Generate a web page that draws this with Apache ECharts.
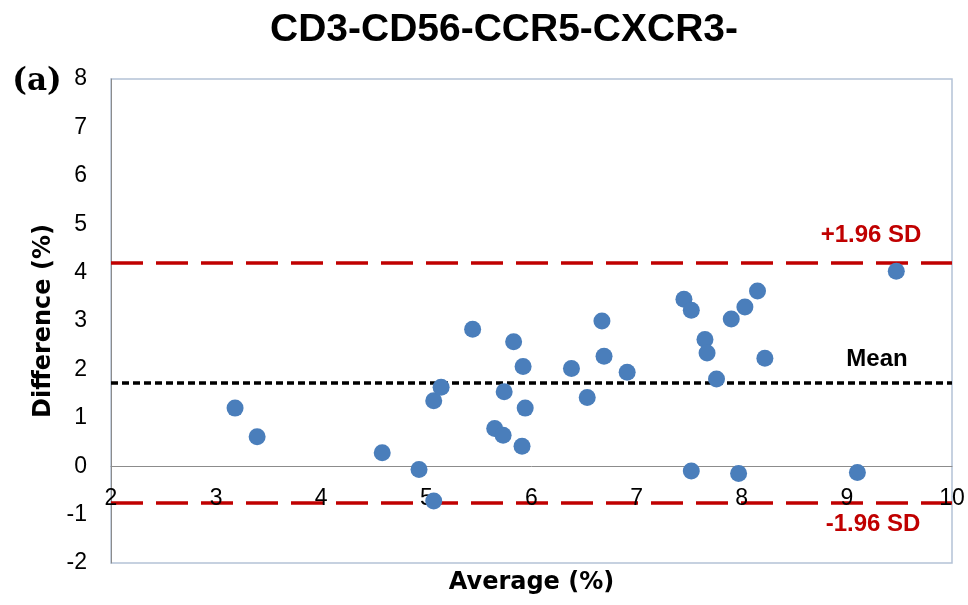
<!DOCTYPE html>
<html>
<head>
<meta charset="utf-8">
<script src="https://cdn.jsdelivr.net/npm/echarts@6/dist/echarts.min.js"></script>
<style>
  html, body { margin: 0; padding: 0; background: #fff; }
  #main { width: 968px; height: 605px; }
</style>
</head>
<body>
<div id="main"></div>
<script>
// Bland-Altman: average vs difference
var averages = [3.18, 3.39, 4.58, 4.93, 5.07, 5.07, 5.14, 5.44, 5.83, 5.92, 5.74, 5.94, 5.65, 5.73, 5.91,
                6.38, 6.53, 6.67, 6.69, 6.91, 7.45, 7.52, 7.52, 7.65, 7.67, 7.76, 7.90, 8.03, 8.15, 7.97, 8.22,
                9.47, 9.10];
var differences = [1.20, 0.61, 0.28, -0.07, -0.72, 1.35, 1.63, 2.83, 2.57, 2.06, 1.54, 1.20, 0.78, 0.64, 0.41,
                   2.02, 1.42, 3.00, 2.27, 1.94, 3.45, 3.22, -0.10, 2.62, 2.34, 1.80, 3.04, 3.29, 3.62, -0.15, 2.23,
                   4.03, -0.13];
var meanDiff = 1.72;
var upperLimit = 4.20;
var lowerLimit = -0.75;

var points = averages.map(function (a, i) { return [a, differences[i]]; });

var myChart = echarts.init(document.getElementById('main'));

var red = '#c00000';

myChart.setOption({
    animation: false,
    grid: {
        left: 111, right: 16, top: 79, bottom: 42,
        outerBoundsMode: 'none',
        containLabel: false,
        show: true,
        borderColor: '#b4c2d6',
        borderWidth: 1.5
    },
    xAxis: {
        type: 'value',
        z: 5,
        min: 2, max: 10, interval: 1,
        name: 'Average (%)',
        nameLocation: 'middle',
        nameGap: 8,
        nameTextStyle: { fontFamily: 'DejaVu Sans', fontWeight: 'bold', fontSize: 24, color: '#000' },
        axisLine: { onZero: true, lineStyle: { color: '#8c8c8c', width: 1 } },
        axisTick: { show: false },
        splitLine: { show: false },
        // labels sit just under the zero line, as in the original
        axisLabel: { margin: -76, fontFamily: 'Liberation Sans', fontSize: 23, color: '#000' }
    },
    yAxis: {
        type: 'value',
        min: -2, max: 8, interval: 1,
        name: 'Difference (%)',
        nameLocation: 'middle',
        nameGap: 55,
        nameTextStyle: { fontFamily: 'DejaVu Sans', fontWeight: 'bold', fontSize: 24, color: '#000' },
        axisLine: { show: true, onZero: false, lineStyle: { color: '#8c8c8c', width: 1 } },
        axisTick: { show: false },
        splitLine: { show: false },
        axisLabel: { margin: 24, fontFamily: 'Liberation Sans', fontSize: 23, color: '#000' }
    },
    graphic: [
        { type: 'text', x: 504, y: 30, style: { text: 'CD3-CD56-CCR5-CXCR3-', fill: '#000',
          font: 'bold 39px "Liberation Sans", Arial', textAlign: 'center', textVerticalAlign: 'middle' } },
        { type: 'text', x: 37, y: 82, style: { text: '(a)', fill: '#000',
          font: 'bold 31px "DejaVu Serif", serif', textAlign: 'center', textVerticalAlign: 'middle' } },
        { type: 'text', x: 871, y: 235, z: 10, style: { text: '+1.96 SD', fill: red,
          font: 'bold 24px "Liberation Sans", Arial', textAlign: 'center', textVerticalAlign: 'middle' } },
        { type: 'text', x: 877, y: 359, z: 10, style: { text: 'Mean', fill: '#000',
          font: 'bold 24px "Liberation Sans", Arial', textAlign: 'center', textVerticalAlign: 'middle' } },
        { type: 'text', x: 873, y: 524, z: 10, style: { text: '-1.96 SD', fill: red,
          font: 'bold 24px "Liberation Sans", Arial', textAlign: 'center', textVerticalAlign: 'middle' } }
    ],
    series: [
        {
            // reference lines
            type: 'scatter',
            data: [],
            z: 1,
            markLine: {
                silent: true,
                symbol: 'none',
                label: { show: false },
                data: [
                    { yAxis: upperLimit, lineStyle: { color: red, width: 3.5, type: [32, 13] } },
                    { yAxis: meanDiff, lineStyle: { color: '#000', width: 3.5, type: [7, 4] } },
                    { yAxis: lowerLimit, lineStyle: { color: red, width: 3.5, type: [32, 13] } }
                ]
            }
        },
        {
            type: 'scatter',
            z: 6,
            symbol: 'circle',
            symbolSize: 17,
            itemStyle: { color: '#4a7ebb', opacity: 1 },
            data: points
        }
    ]
});
</script>
</body>
</html>
